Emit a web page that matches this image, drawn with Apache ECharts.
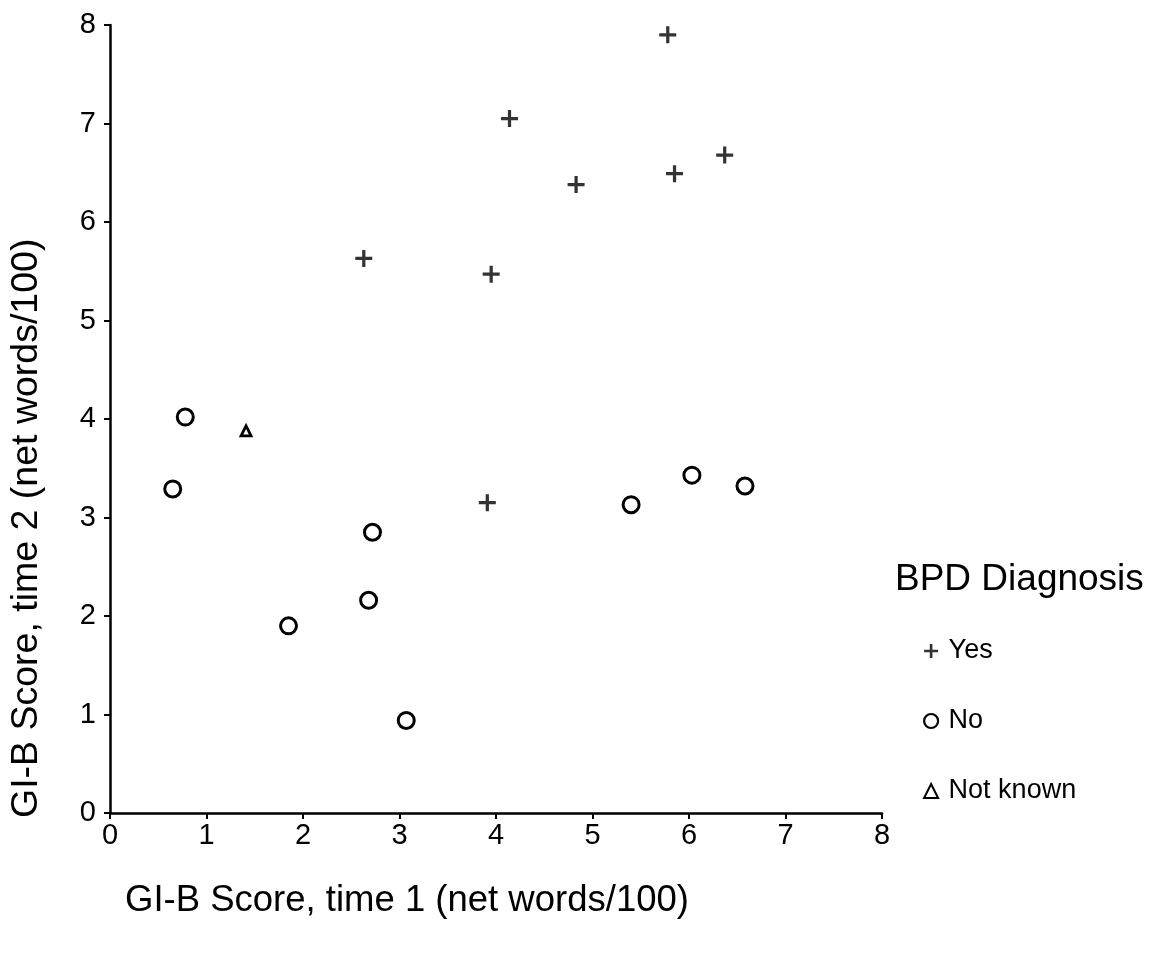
<!DOCTYPE html>
<html>
<head>
<meta charset="utf-8">
<script src="https://cdn.jsdelivr.net/npm/echarts@6/dist/echarts.min.js"></script>
<style>
  html, body { margin: 0; padding: 0; background: #fff; }
  #chart { width: 1163px; height: 960px; }
</style>
</head>
<body>
<div id="chart"></div>
<script>
// GI-B scores at two time points, grouped by BPD diagnosis: [time 1, time 2]
const yesPoints = [
  [5.78, 7.90], [4.14, 7.05], [6.37, 6.68], [5.85, 6.49],
  [4.83, 6.38], [2.63, 5.63], [3.95, 5.47], [3.91, 3.15]
];
const noPoints = [
  [0.78, 4.02], [0.65, 3.29], [2.72, 2.85], [2.68, 2.16],
  [1.85, 1.90], [3.07, 0.94], [5.40, 3.13], [6.03, 3.43], [6.58, 3.32]
];
const notKnownPoints = [
  [1.41, 3.88]
];
const groupNames = ['Yes', 'No', 'Not known'];
const legendTitle = 'BPD Diagnosis';
const xTitle = 'GI-B Score, time 1 (net words/100)';
const yTitle = 'GI-B Score, time 2 (net words/100)';

const FONT = '"Liberation Sans", Arial, sans-serif';
// filled plus sign used for the "Yes" group
const PLUS = 'path://M-1.9,-10 H1.9 V-1.9 H10 V1.9 H1.9 V10 H-1.9 V1.9 H-10 V-1.9 H-1.9 Z';

const chart = echarts.init(document.getElementById('chart'));

const axisCommon = {
  type: 'value',
  min: 0,
  max: 8,
  interval: 1,
  splitLine: { show: false },
  axisLine: { show: true, onZero: false, lineStyle: { color: '#000', width: 2.5 } },
  axisTick: { show: true, length: 6, lineStyle: { color: '#000', width: 2 } },
  axisLabel: { color: '#000', fontFamily: FONT, fontSize: 29 }
};

chart.setOption({
  animation: false,
  backgroundColor: '#fff',
  grid: { left: 110, right: 281, top: 25, bottom: 147, containLabel: false },
  xAxis: Object.assign({}, axisCommon, {
    axisLabel: Object.assign({}, axisCommon.axisLabel, { margin: 8 })
  }),
  yAxis: Object.assign({}, axisCommon, {
    axisLabel: Object.assign({}, axisCommon.axisLabel, { margin: 14 })
  }),
  title: {
    text: legendTitle,
    left: 890,
    top: 556,
    textStyle: { fontFamily: FONT, fontSize: 37, fontWeight: 'normal', color: '#000' }
  },
  legend: {
    orient: 'vertical',
    left: 918,
    top: 632,
    itemWidth: 15,
    itemHeight: 14,
    itemGap: 42,
    textStyle: { fontFamily: FONT, fontSize: 27, color: '#000', lineHeight: 28, padding: [0, 0, 0, 5] },
    data: [
      { name: groupNames[0], icon: PLUS, itemStyle: { color: '#000', borderWidth: 0 } },
      { name: groupNames[1], icon: 'circle', itemStyle: { color: '#fff', borderColor: '#000', borderWidth: 2.2 } },
      { name: groupNames[2], icon: 'path://M0,-8 L7,6 L-7,6 Z', itemStyle: { color: '#fff', borderColor: '#000', borderWidth: 2 } }
    ]
  },
  graphic: [
    {
      type: 'text',
      left: 125,
      top: 882,
      style: { text: xTitle, fontFamily: FONT, fontSize: 36.5, fill: '#000' }
    },
    {
      type: 'text',
      x: 8,
      y: 818,
      rotation: Math.PI / 2,
      style: { text: yTitle, fontFamily: FONT, fontSize: 37.5, fill: '#000', align: 'left', verticalAlign: 'top' }
    }
  ],
  series: [
    {
      name: groupNames[0],
      type: 'scatter',
      data: yesPoints,
      symbol: PLUS,
      symbolSize: 17,
      itemStyle: { color: '#000' }
    },
    {
      name: groupNames[1],
      type: 'scatter',
      data: noPoints,
      symbol: 'circle',
      symbolSize: 16,
      itemStyle: { color: '#fff', borderColor: '#000', borderWidth: 3, opacity: 1 }
    },
    {
      name: groupNames[2],
      type: 'scatter',
      data: notKnownPoints,
      symbol: 'triangle',
      symbolSize: 10,
      itemStyle: { color: '#fff', borderColor: '#000', borderWidth: 2.8, opacity: 1 }
    }
  ]
});
</script>
</body>
</html>
